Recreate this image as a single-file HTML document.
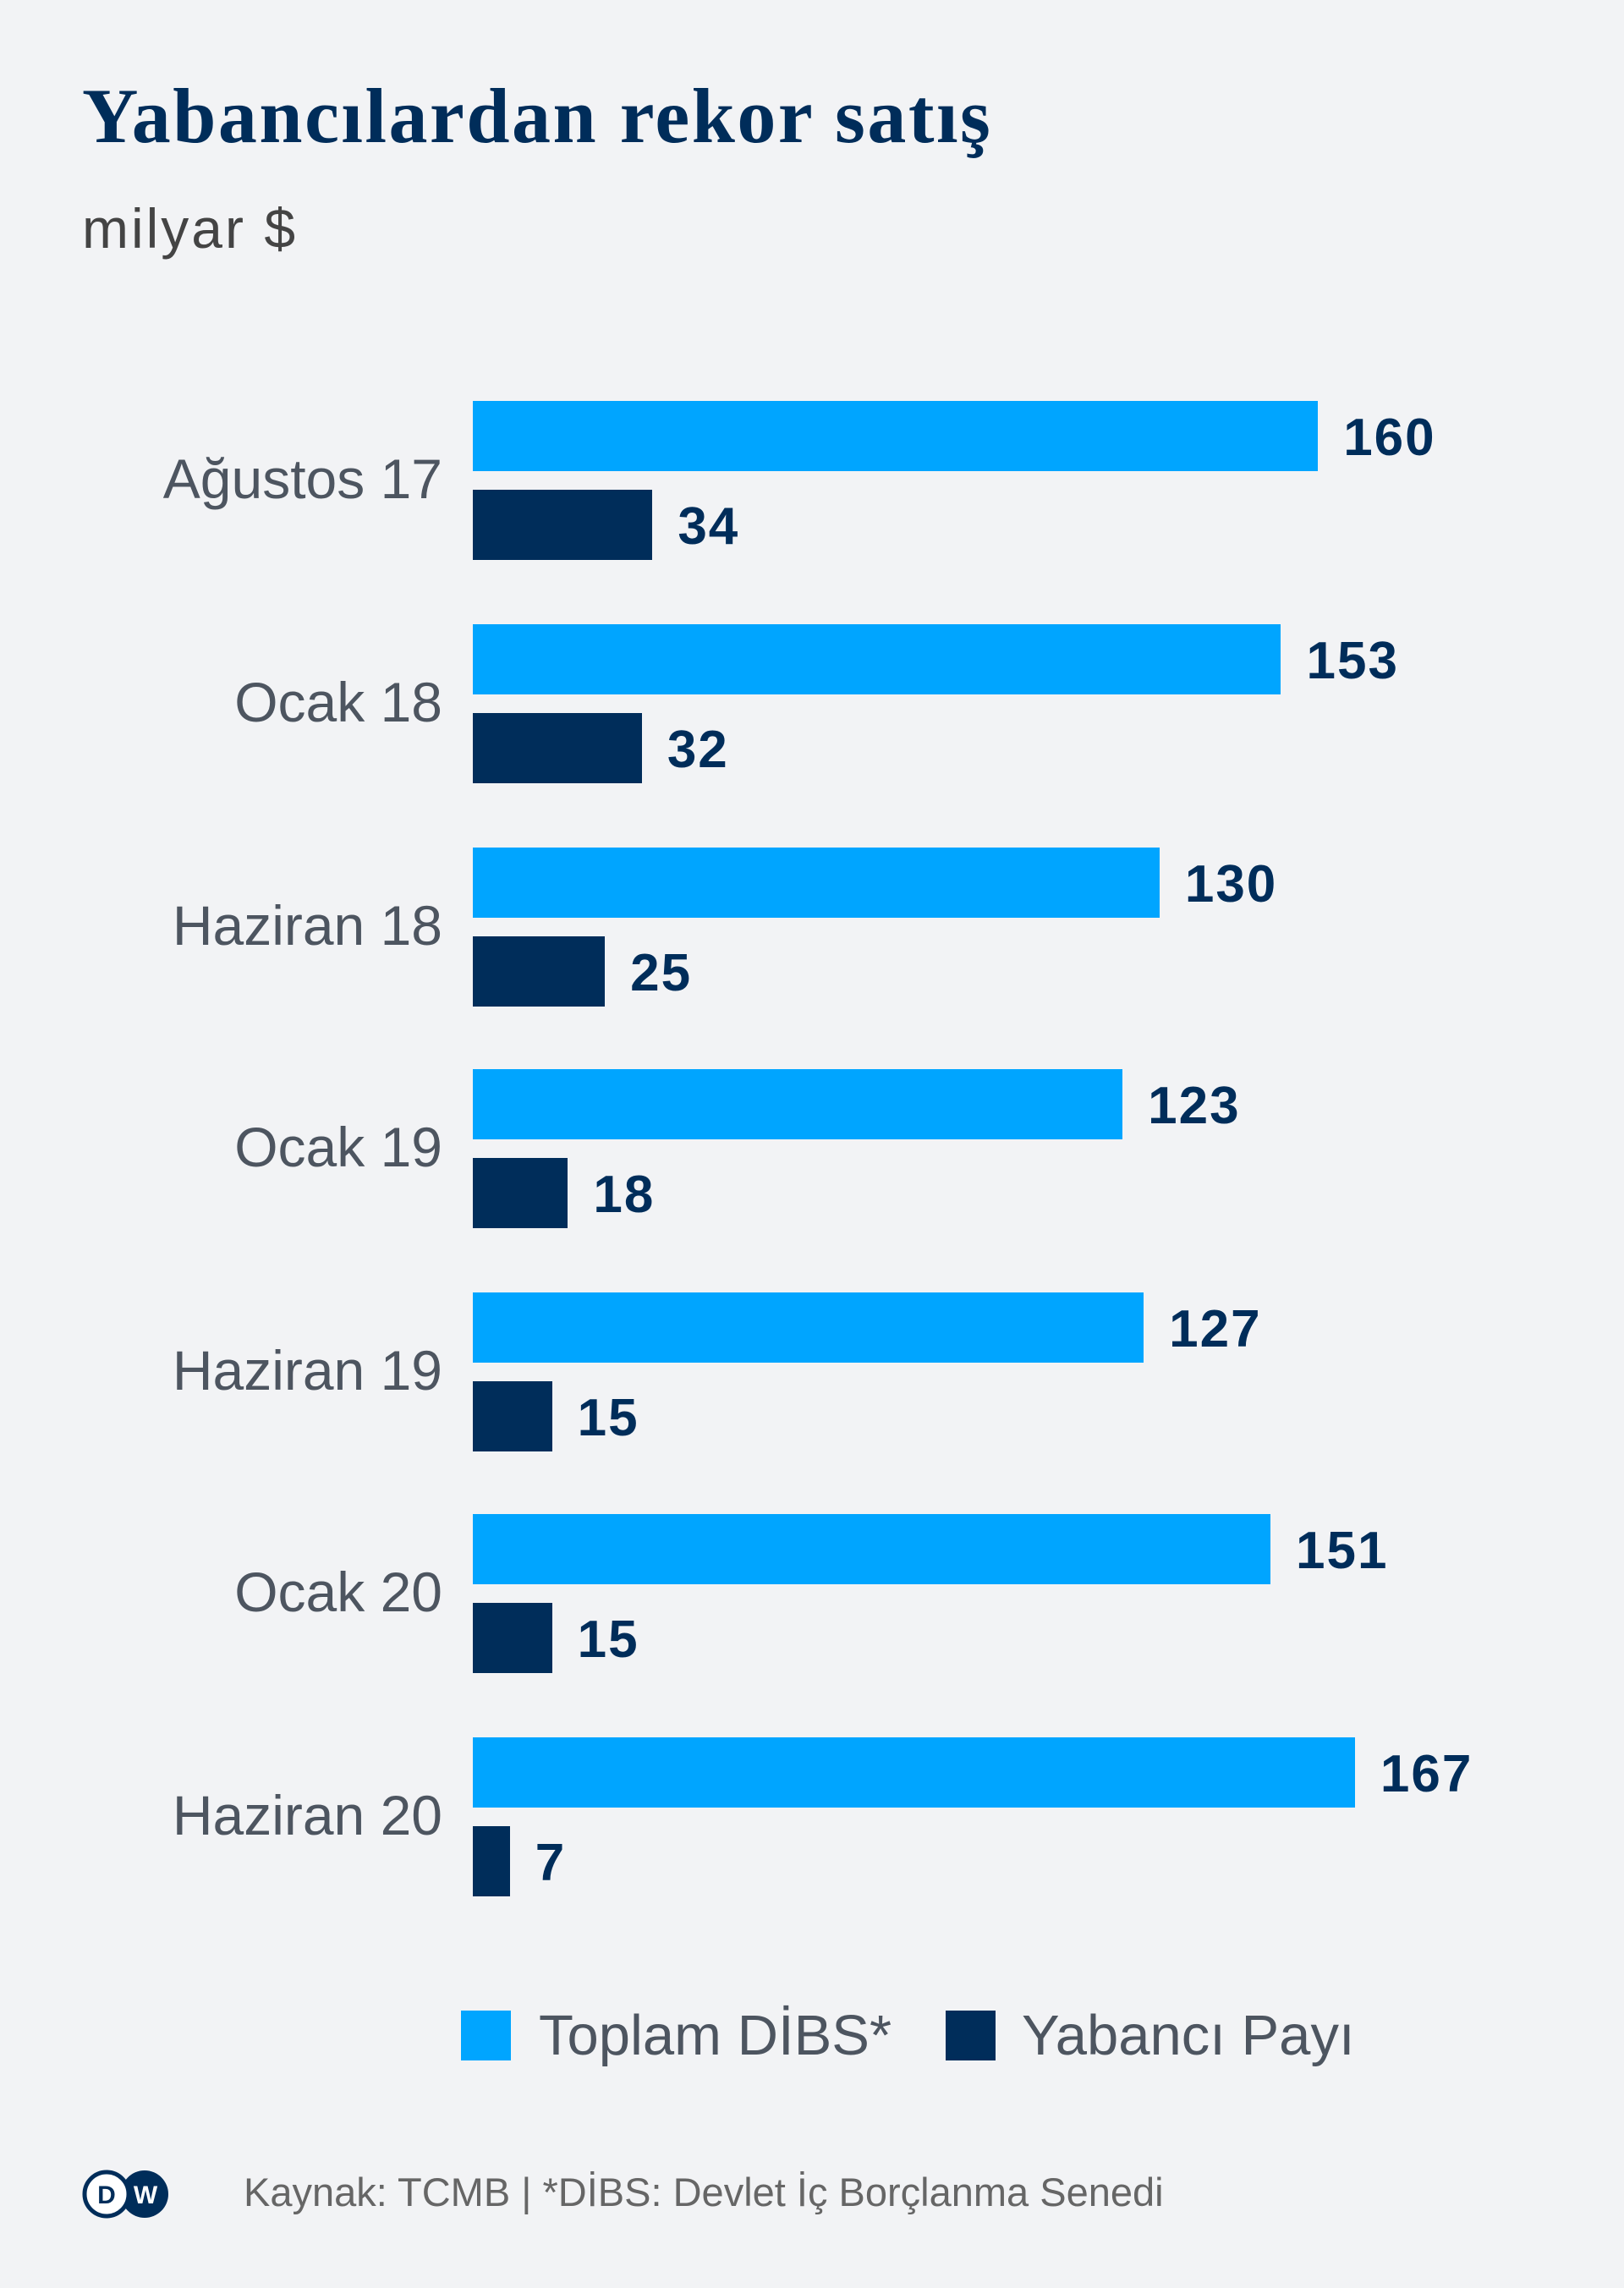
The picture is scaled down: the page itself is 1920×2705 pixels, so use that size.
<!DOCTYPE html>
<html><head><meta charset="utf-8"><style>
*{margin:0;padding:0}
body{width:1920px;height:2705px;background:#f2f3f5;position:relative;overflow:hidden;font-family:"Liberation Sans","DejaVu Sans",sans-serif}
.a{position:absolute}
.title{left:97px;top:84px;font-family:"Liberation Serif","DejaVu Serif",serif;font-weight:bold;font-size:92px;letter-spacing:2.5px;color:#002d5a;white-space:nowrap}
.sub{left:97px;top:232px;font-size:66px;letter-spacing:3px;color:#444;}
.l{background:#00a5ff;height:83px;left:559px}
.d{background:#002d5a;height:83px;left:559px}
.v{font-weight:bold;font-size:62px;letter-spacing:2px;color:#002d5a;line-height:83px;white-space:nowrap}
.c{right:1397px;font-size:66px;color:#4d5560;line-height:80px;white-space:nowrap;text-align:right}
.lg{font-size:67px;color:#4d5560;line-height:62px;white-space:nowrap}
</style></head><body>
<div class="a title">Yabancılardan rekor satış</div>
<div class="a sub">milyar $</div>
<div id="g"></div>
<script>
var data=[["Ağustos 17",160,34],["Ocak 18",153,32],["Haziran 18",130,25],["Ocak 19",123,18],["Haziran 19",127,15],["Ocak 20",151,15],["Haziran 20",167,7]];
var tops=[474,738,1002,1264,1528,1790,2054],h="";
data.forEach(function(d,i){var t=tops[i],k=6.245,w1=d[1]*k,w2=d[2]*k;
h+='<div class="a l" style="top:'+t+'px;width:'+w1+'px"></div>';
h+='<div class="a v" style="top:'+(t+2)+'px;left:'+(559+w1+30)+'px">'+d[1]+'</div>';
h+='<div class="a d" style="top:'+(t+105)+'px;width:'+w2+'px"></div>';
h+='<div class="a v" style="top:'+(t+107)+'px;left:'+(559+w2+30)+'px">'+d[2]+'</div>';
h+='<div class="a c" style="top:'+(t+52)+'px">'+d[0]+'</div>';});
document.getElementById("g").innerHTML=h;
</script>
<div class="a" style="left:545px;top:2377px;width:59px;height:59px;background:#00a5ff"></div>
<div class="a lg" style="left:637px;top:2376px">Toplam DİBS*</div>
<div class="a" style="left:1118px;top:2377px;width:59px;height:59px;background:#002d5a"></div>
<div class="a lg" style="left:1208px;top:2376px">Yabancı Payı</div>
<svg class="a" style="left:96px;top:2564px" width="106" height="60">
<circle cx="75" cy="30" r="28" fill="#002d5a"/>
<circle cx="30" cy="30" r="26" fill="#fff" stroke="#002d5a" stroke-width="5"/>
<text x="30" y="41" font-family="Liberation Sans" font-weight="bold" font-size="30" fill="#002d5a" text-anchor="middle">D</text>
<text x="76" y="41" font-family="Liberation Sans" font-weight="bold" font-size="30" fill="#fff" text-anchor="middle">W</text>
</svg>
<div class="a" style="left:288px;top:2564px;font-size:47px;color:#666;white-space:nowrap">Kaynak: TCMB | *DİBS: Devlet İç Borçlanma Senedi</div>
</body></html>
